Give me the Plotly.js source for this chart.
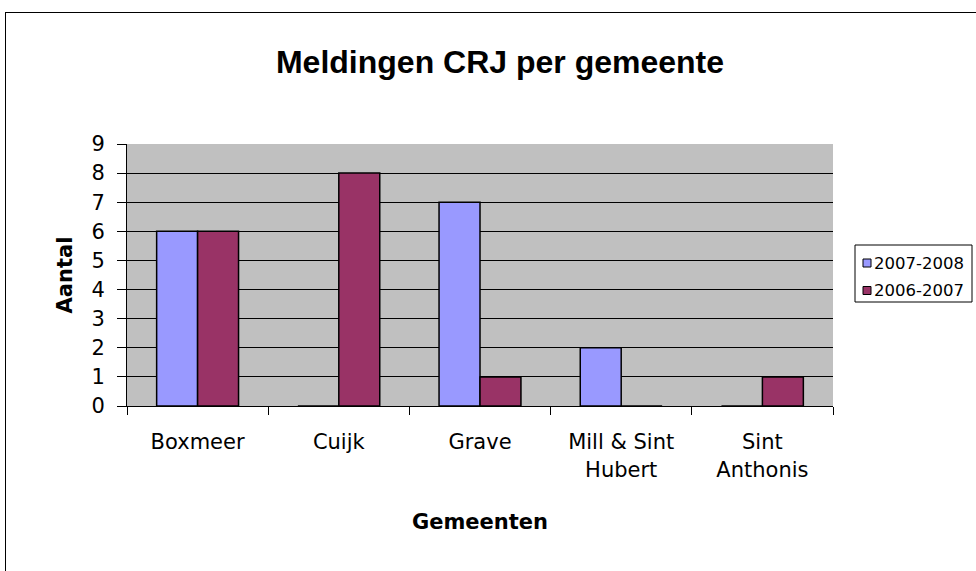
<!DOCTYPE html>
<html>
<head>
<meta charset="utf-8">
<script src="https://cdn.plot.ly/plotly-3.0.1.min.js"></script>
<style>
html,body{margin:0;padding:0;background:#fff;}
#wrap{position:relative;width:976px;height:571px;overflow:hidden;}
#frame{position:absolute;left:5px;top:12px;width:1000px;height:600px;border-left:1px solid #000;border-top:1px solid #000;pointer-events:none;z-index:5;}
#chart{position:absolute;left:0;top:0;width:976px;height:571px;}
</style>
</head>
<body>
<div id="wrap"><div id="chart"></div><div id="frame"></div></div>
<script>
const categories = ["Boxmeer", "Cuijk", "Grave", "Mill & Sint<br>Hubert", "Sint<br>Anthonis"];
const series2007_2008 = [6, 0, 7, 2, 0];
const series2006_2007 = [6, 8, 1, 0, 1];
const seriesNames = ["2007-2008", "2006-2007"];
const seriesColors = ["#9999FF", "#993366"];
const yTicks = [0, 1, 2, 3, 4, 5, 6, 7, 8, 9];

const titleFont = "Liberation Sans, Arial, sans-serif";
const font = "DejaVu Sans, sans-serif";

const seriesValues = [series2007_2008, series2006_2007];
const traces = seriesValues.map((vals, i) => ({
  type: "bar", name: seriesNames[i], x: categories, y: vals,
  marker: {color: seriesColors[i], line: {color: "#000", width: 1.5}}
}));

// plot area in pixels (for legend placement in paper coordinates)
const L = 127, R = 833, T = 144, B = 406;
const px = x => (x - L) / (R - L);
const py = y => (B - y) / (B - T);

const shapes = [
  {type: "rect", xref: "paper", yref: "paper", x0: px(855), x1: px(972), y0: py(245), y1: py(302),
   fillcolor: "#fff", line: {color: "#000", width: 1}}
];
const annotations = [];
seriesNames.forEach((name, i) => {
  const cy = 263 + i * 27.5;
  shapes.push({type: "rect", xref: "paper", yref: "paper", x0: px(863), x1: px(871),
               y0: py(cy - 4), y1: py(cy + 4), fillcolor: seriesColors[i], line: {color: "#000", width: 1}});
  annotations.push({xref: "paper", yref: "paper", x: px(872), y: py(cy), xanchor: "left", yanchor: "middle",
                    text: name, showarrow: false, font: {family: font, size: 16.5, color: "#000"}});
});

const layout = {
  width: 976, height: 571,
  paper_bgcolor: "#fff", plot_bgcolor: "#C0C0C0",
  margin: {l: L, r: 976 - R, t: T, b: 571 - B, pad: 0, autoexpand: false},
  barmode: "group", bargap: 0.42, bargroupgap: 0,
  font: {family: font, color: "#000", size: 21},
  title: {text: "<b>Meldingen CRJ per gemeente</b>", x: 500 / 976, xanchor: "center",
          y: 1 - 62/571, yanchor: "middle", yref: "container",
          font: {family: titleFont, size: 32, color: "#000"}},
  xaxis: {type: "category", tickson: "boundaries", ticks: "outside", ticklen: 8, tickcolor: "#000",
          showline: true, linecolor: "#000", linewidth: 1, showgrid: false,
          tickfont: {family: font, size: 21}, ticklabelstandoff: 17,
          title: {text: "<b>Gemeenten</b>", font: {family: font, size: 21}, standoff: 33}},
  yaxis: {range: [0, 9], tickvals: yTicks, ticks: "outside", ticklen: 9, tickcolor: "#000",
          showline: true, linecolor: "#000", linewidth: 1, showgrid: true, gridcolor: "#000", gridwidth: 1,
          zeroline: false, tickfont: {family: font, size: 21}, ticklabelstandoff: 8,
          title: {text: "<b>Aantal</b>", font: {family: font, size: 21}, standoff: 13}},
  showlegend: false,
  shapes: shapes,
  annotations: annotations
};

Plotly.newPlot("chart", traces, layout, {displayModeBar: false, staticPlot: true});
</script>
</body>
</html>
